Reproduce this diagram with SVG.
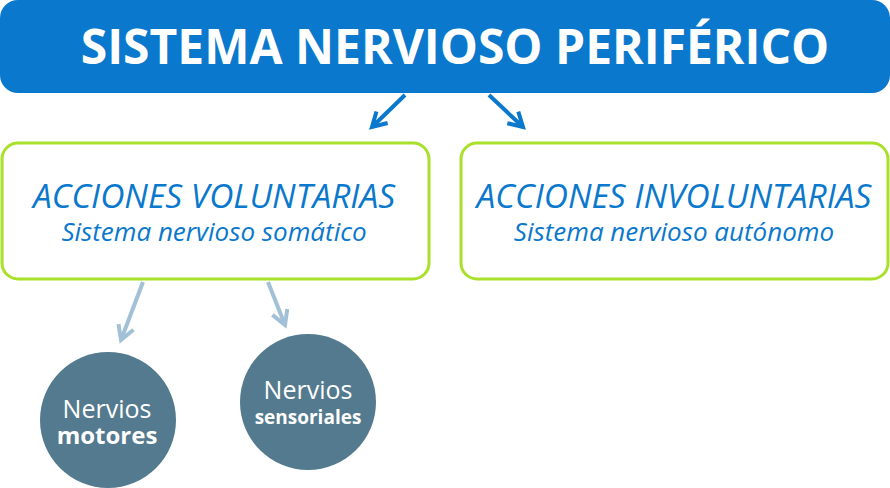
<svg xmlns="http://www.w3.org/2000/svg" width="890" height="488" viewBox="0 0 890 488">
<style>
.box{fill:#fff;stroke:#a8e02a;stroke-width:3}
.t{font-family:"Open Sans",sans-serif;font-style:italic;fill:#0a78cc;text-anchor:middle}
.c{fill:#537a8e}
.ct{font-family:"Open Sans",sans-serif;fill:#fff;text-anchor:middle}
</style>
<defs>
<marker id="ab" viewBox="0 0 10 10" refX="8" refY="5" markerWidth="5" markerHeight="5" orient="auto"><path d="M1,1 L8,5 L1,9" fill="none" stroke="#0a78cc" stroke-width="2"/></marker>
<marker id="al" viewBox="0 0 10 10" refX="8" refY="5" markerWidth="5" markerHeight="5" orient="auto"><path d="M1,1 L8,5 L1,9" fill="none" stroke="#a3c1d6" stroke-width="2"/></marker>
</defs>
<g id="header"><rect x="0" y="0" width="890" height="93" rx="18" fill="#0a78cc"/>
<text x="455" y="64" font-family="Open Sans,sans-serif" font-weight="bold" font-size="48" fill="#fff" text-anchor="middle">SISTEMA NERVIOSO PERIFÉRICO</text></g>
<g id="connectors" stroke-width="4" fill="none">
<line x1="405" y1="95" x2="372" y2="127" stroke="#0a78cc" marker-end="url(#ab)"/>
<line x1="489" y1="95" x2="523" y2="127" stroke="#0a78cc" marker-end="url(#ab)"/>
<line x1="143" y1="282" x2="121" y2="340" stroke="#a3c1d6" marker-end="url(#al)"/>
<line x1="268" y1="282" x2="285" y2="325" stroke="#a3c1d6" marker-end="url(#al)"/>
</g>
<g id="voluntarias"><rect class="box" x="2" y="143" width="427" height="136" rx="16"/>
<text class="t" x="214" y="208" font-size="33.5">ACCIONES VOLUNTARIAS</text>
<text class="t" x="214" y="241" font-size="26">Sistema nervioso somático</text></g>
<g id="involuntarias"><rect class="box" x="461" y="143" width="427" height="136" rx="16"/>
<text class="t" x="674" y="208" font-size="33.5">ACCIONES INVOLUNTARIAS</text>
<text class="t" x="674" y="241" font-size="26">Sistema nervioso autónomo</text></g>
<g id="motores"><circle class="c" cx="108" cy="420" r="68"/>
<text class="ct" x="107" y="418" font-size="25">Nervios</text>
<text class="ct" x="107" y="444" font-size="24" font-weight="bold">motores</text></g>
<g id="sensoriales"><circle class="c" cx="308" cy="402" r="68"/>
<text class="ct" x="308" y="399" font-size="25">Nervios</text>
<text class="ct" x="308" y="424" font-size="19" font-weight="bold">sensoriales</text></g>
</svg>
